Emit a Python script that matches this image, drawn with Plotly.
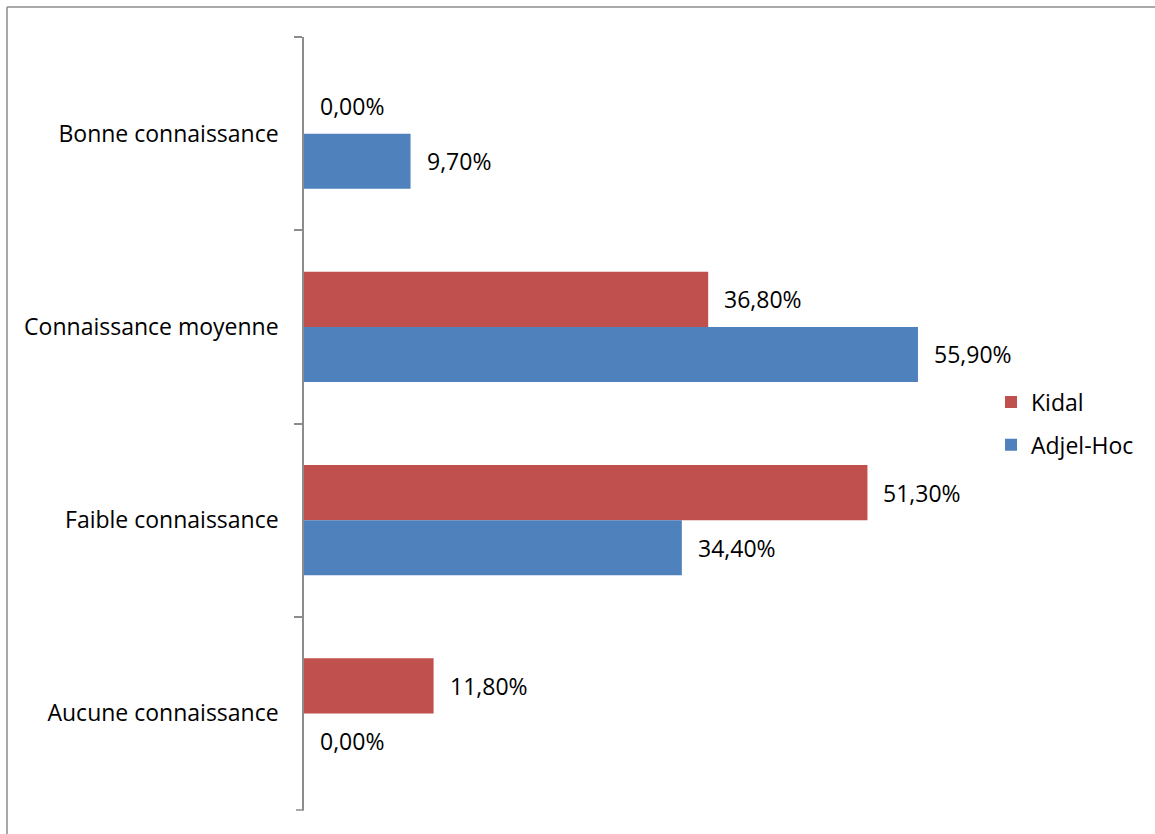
import plotly.graph_objects as go

# Knowledge levels, top to bottom
categories = ["Bonne connaissance", "Connaissance moyenne", "Faible connaissance", "Aucune connaissance"]
kidal = [0.0, 36.8, 51.3, 11.8]
adjel_hoc = [9.7, 55.9, 34.4, 0.0]
series_names = ["Kidal", "Adjel-Hoc"]
series_colors = ["#C0504D", "#4F81BD"]

FONT = "Open Sans"
FSIZE = 23

fig = go.Figure()
for name, vals, col in zip(series_names, [kidal, adjel_hoc], series_colors):
    fig.add_trace(go.Bar(
        y=categories, x=vals, name=name, orientation="h",
        marker=dict(color=col, line=dict(width=0)),
        legendgroup=name,
    ))

def fmt(v):
    return f"{v:.2f}".replace(".", ",") + "%"

# value labels beside each bar end (Kidal sits above Adjel-Hoc in each group)
annotations = []
for vals, shift in [(kidal, 27.5), (adjel_hoc, -27.5)]:
    for cat, v in zip(categories, vals):
        annotations.append(dict(
            x=v, y=cat, xref="x", yref="y", text=fmt(v), showarrow=False,
            xanchor="left", yanchor="middle", xshift=14, yshift=shift,
            font=dict(family=FONT, size=FSIZE, color="#000000"),
        ))

fig.update_layout(
    width=1155, height=834,
    margin=dict(l=304, r=192, t=37, b=24),
    paper_bgcolor="white", plot_bgcolor="white",
    barmode="group", bargap=0.43, bargroupgap=0,
    font=dict(family=FONT, size=FSIZE, color="#000000"),
    annotations=annotations,
    xaxis=dict(range=[0, 60], showgrid=False, zeroline=False, showline=False,
               showticklabels=False, ticks=""),
    yaxis=dict(autorange="reversed", showgrid=False, zeroline=False,
               showline=True, linecolor="#8C8C8C", linewidth=1.5,
               ticks="outside", tickson="boundaries", ticklen=8,
               tickcolor="#8C8C8C", tickwidth=1.5, ticklabelstandoff=19,
               tickfont=dict(family=FONT, size=FSIZE, color="#000000")),
    legend=dict(x=1.0425, y=0.5, xanchor="left", yanchor="middle",
                traceorder="grouped", tracegroupgap=10,
                font=dict(family=FONT, size=FSIZE, color="#000000"),
                bgcolor="rgba(0,0,0,0)"),
    shapes=[
        # outer chart frame (top and left edges)
        dict(type="line", xref="paper", yref="paper",
             x0=-0.4507, x1=1.5, y0=1.0388, y1=1.0388,
             line=dict(color="#8C8C8C", width=1.5)),
        dict(type="line", xref="paper", yref="paper",
             x0=-0.4507, x1=-0.4507, y0=-0.2, y1=1.0388,
             line=dict(color="#8C8C8C", width=1.5)),
        # closing tick at the bottom end of the category axis
        dict(type="line", xref="paper", yref="paper",
             x0=-0.0121, x1=0, y0=0, y1=0,
             line=dict(color="#8C8C8C", width=1.5)),
    ],
)

fig.write_html("out.html")
